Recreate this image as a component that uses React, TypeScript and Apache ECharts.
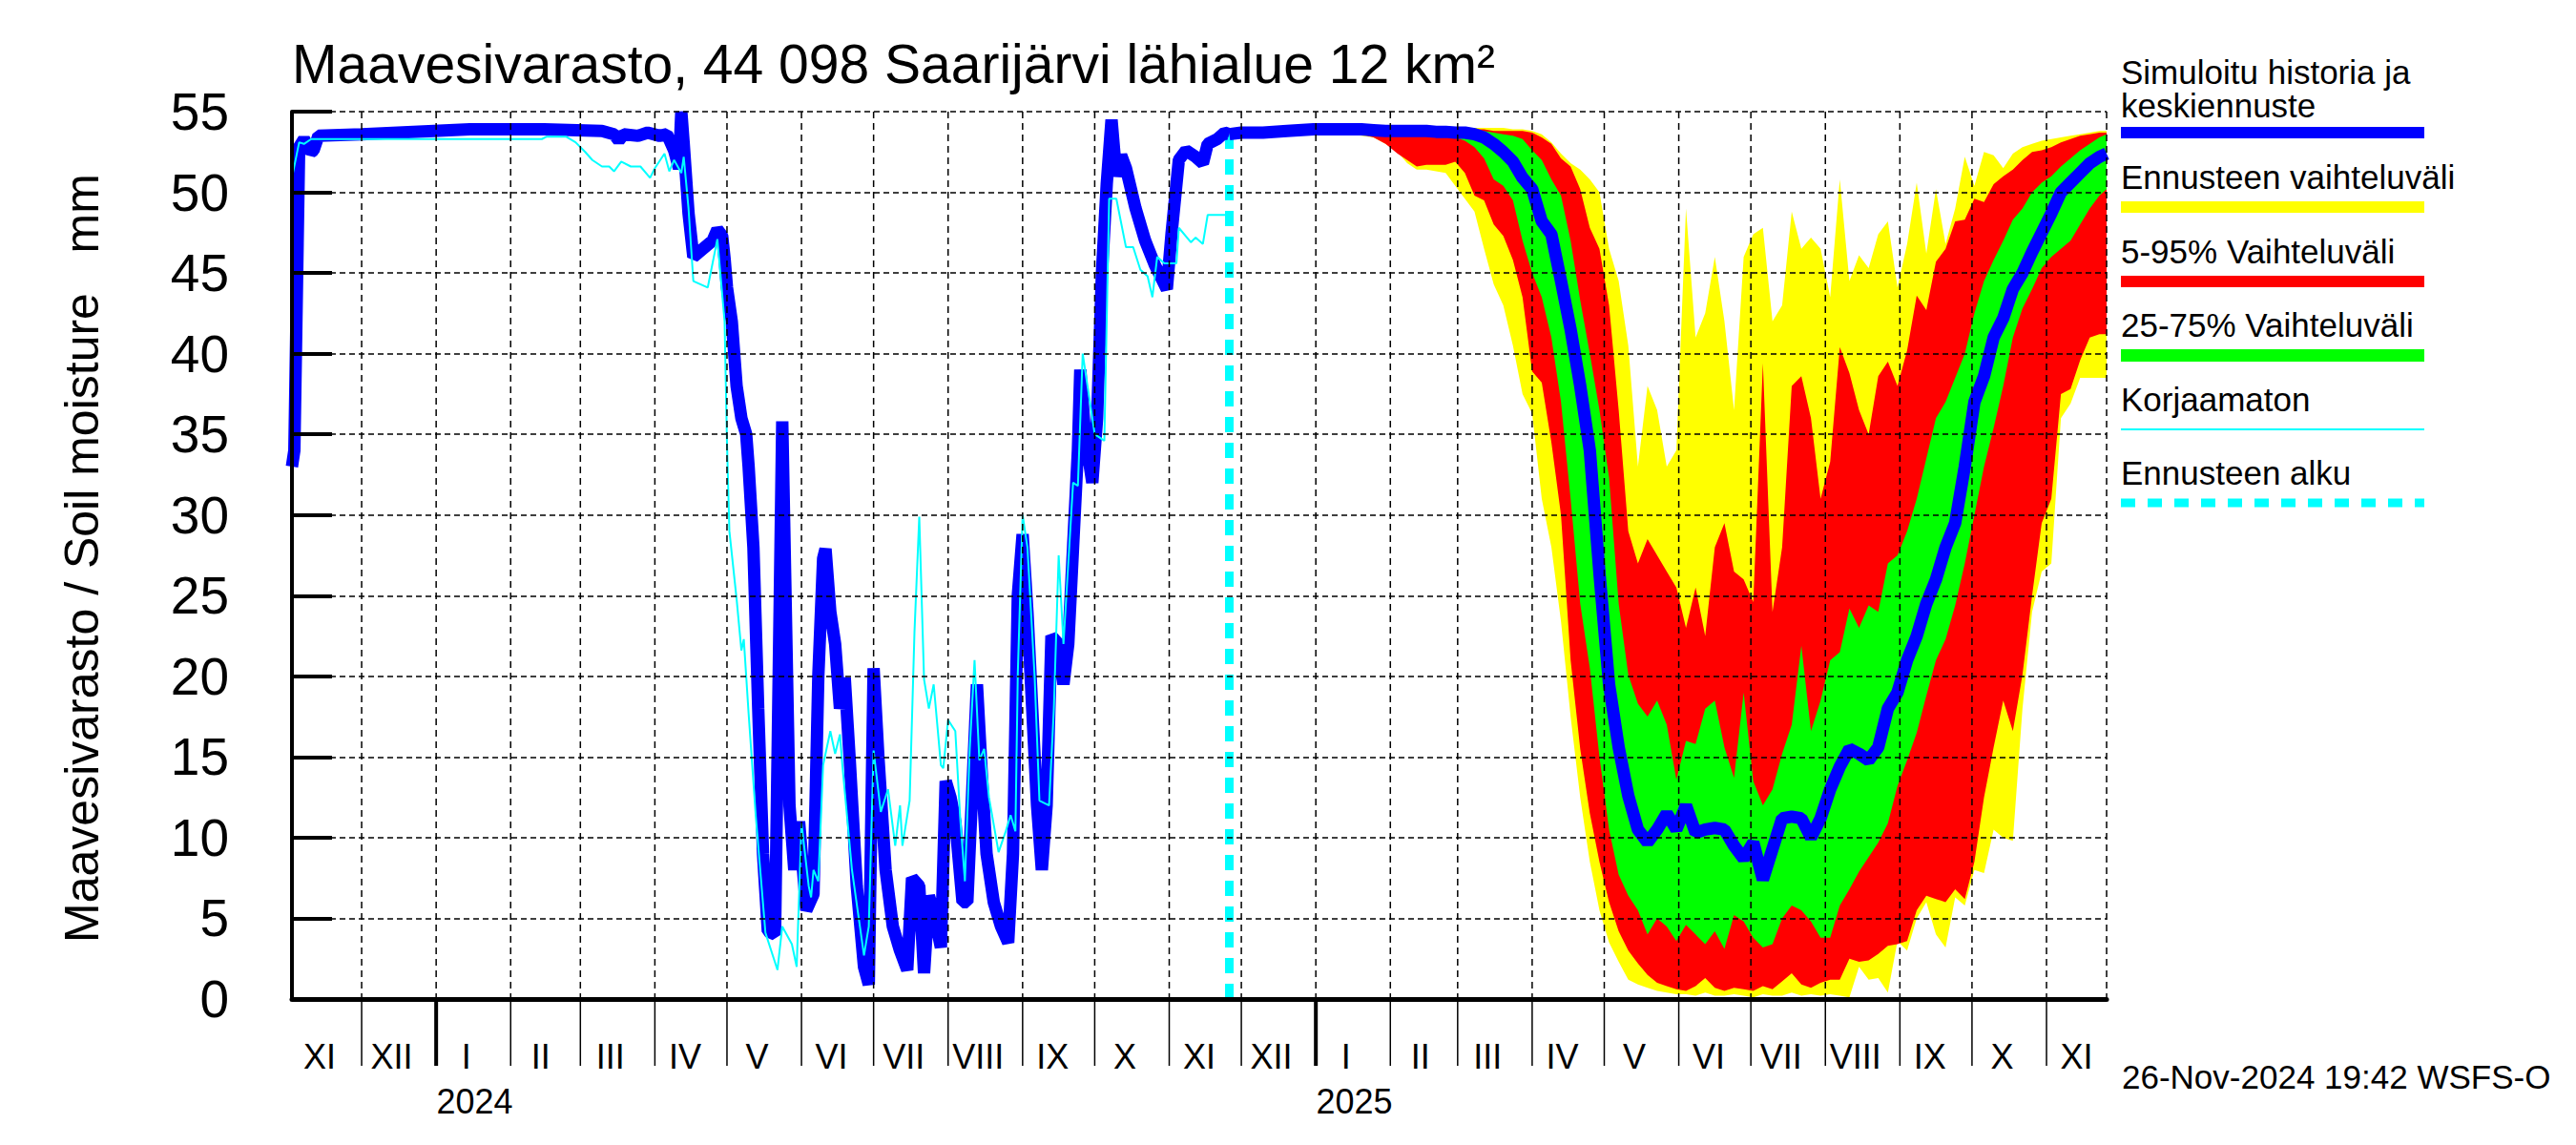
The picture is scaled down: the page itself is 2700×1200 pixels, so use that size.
import React, { useEffect, useRef } from "react";
import * as echarts from "echarts";

// ---------- axis / tick label data ----------
const AXIS_START = "2023-11-02";
const AXIS_END = "2025-11-26";
const FORECAST_START = "2024-11-26";
const romanMonths = ["I", "II", "III", "IV", "V", "VI", "VII", "VIII", "IX", "X", "XI", "XII"];
const monthStarts = [
  "2023-11-01", "2023-12-01", "2024-01-01", "2024-02-01", "2024-03-01", "2024-04-01", "2024-05-01",
  "2024-06-01", "2024-07-01", "2024-08-01", "2024-09-01", "2024-10-01", "2024-11-01", "2024-12-01",
  "2025-01-01", "2025-02-01", "2025-03-01", "2025-04-01", "2025-05-01", "2025-06-01", "2025-07-01",
  "2025-08-01", "2025-09-01", "2025-10-01", "2025-11-01",
];
const yearTexts = ["2024", "2025"];
const yearLabelDates = ["2024-01-17", "2025-01-17"];

// ---------- simulated history (blue) ----------
const histDates = [
  "2023-11-02", "2023-11-03", "2023-11-05", "2023-11-07", "2023-11-10", "2023-11-11", "2023-11-13",
  "2023-12-01", "2023-12-16", "2024-01-15", "2024-02-15", "2024-03-10", "2024-03-15", "2024-03-17",
  "2024-03-19", "2024-03-25", "2024-03-29", "2024-04-03", "2024-04-06", "2024-04-09", "2024-04-11",
  "2024-04-12", "2024-04-13", "2024-04-15", "2024-04-17", "2024-04-21", "2024-04-25", "2024-04-27",
  "2024-04-29", "2024-04-30", "2024-05-01", "2024-05-03", "2024-05-05", "2024-05-07", "2024-05-09",
  "2024-05-10", "2024-05-12", "2024-05-14", "2024-05-16", "2024-05-18", "2024-05-21", "2024-05-24",
  "2024-05-27", "2024-05-29", "2024-05-31", "2024-06-03", "2024-06-06", "2024-06-08", "2024-06-10",
  "2024-06-11", "2024-06-13", "2024-06-15", "2024-06-17", "2024-06-19", "2024-06-21", "2024-06-24",
  "2024-06-27", "2024-06-29", "2024-07-01", "2024-07-03", "2024-07-06", "2024-07-09", "2024-07-12",
  "2024-07-15", "2024-07-17", "2024-07-20", "2024-07-22", "2024-07-24", "2024-07-26", "2024-07-29",
  "2024-07-31", "2024-08-02", "2024-08-04", "2024-08-07", "2024-08-09", "2024-08-13", "2024-08-15",
  "2024-08-17", "2024-08-20", "2024-08-23", "2024-08-26", "2024-08-28", "2024-08-30", "2024-09-01",
  "2024-09-03", "2024-09-05", "2024-09-07", "2024-09-09", "2024-09-11", "2024-09-13", "2024-09-16",
  "2024-09-18", "2024-09-20", "2024-09-22", "2024-09-24", "2024-09-25", "2024-09-27", "2024-09-30",
  "2024-10-02", "2024-10-04", "2024-10-06", "2024-10-08", "2024-10-10", "2024-10-12", "2024-10-14",
  "2024-10-18", "2024-10-22", "2024-10-26", "2024-10-31", "2024-11-02", "2024-11-05", "2024-11-08",
  "2024-11-12", "2024-11-15", "2024-11-17", "2024-11-21", "2024-11-24", "2024-11-26",
];
const histValues = [
  33.0, 34.0, 52.8, 53.3, 52.5, 52.6, 53.5,
  53.6, 53.7, 53.9, 53.9, 53.8, 53.6, 53.2,
  53.6, 53.5, 53.7, 53.5, 53.6, 52.6, 51.5,
  55.0, 53.0, 48.7, 46.0, 46.5, 47.0, 47.7,
  47.3, 45.9, 44.1, 42.0, 38.0, 36.0, 35.0,
  33.0, 28.0, 18.0, 9.0, 4.2, 4.0, 35.8,
  12.0, 8.0, 11.0, 5.5, 6.5, 20.0, 27.3,
  27.9, 24.0, 22.0, 18.0, 19.9, 15.0, 7.0,
  2.0, 0.9, 20.5, 15.0, 8.0, 4.5, 3.0,
  1.8, 7.5, 7.0, 1.6, 6.4, 5.4, 3.2,
  13.5, 12.5, 11.0, 6.0, 6.0, 19.5, 14.0,
  9.0, 6.0, 4.5, 3.5, 9.0, 25.0, 28.8,
  24.0, 18.0, 12.0, 8.0, 12.0, 22.5, 22.0,
  19.5, 22.0, 28.0, 34.0, 39.0, 35.0, 32.0,
  36.0, 45.0, 50.5, 54.5, 51.0, 52.3, 51.5,
  49.0, 47.0, 45.5, 44.0, 47.5, 52.0, 52.6,
  52.2, 51.8, 53.0, 53.3, 53.7, 53.6,
];

// ---------- uncorrected (cyan) ----------
const rawDates = [
  "2023-11-02", "2023-11-05", "2023-11-07", "2023-11-10", "2024-02-14", "2024-02-16", "2024-02-24",
  "2024-02-28", "2024-03-03", "2024-03-06", "2024-03-10", "2024-03-13", "2024-03-15", "2024-03-18",
  "2024-03-22", "2024-03-26", "2024-03-30", "2024-04-01", "2024-04-05", "2024-04-07", "2024-04-09",
  "2024-04-12", "2024-04-13", "2024-04-15", "2024-04-17", "2024-04-23", "2024-04-27", "2024-04-30",
  "2024-05-01", "2024-05-02", "2024-05-05", "2024-05-07", "2024-05-08", "2024-05-10", "2024-05-13",
  "2024-05-17", "2024-05-22", "2024-05-24", "2024-05-28", "2024-05-30", "2024-06-01", "2024-06-04",
  "2024-06-05", "2024-06-06", "2024-06-08", "2024-06-10", "2024-06-13", "2024-06-15", "2024-06-17",
  "2024-06-18", "2024-06-22", "2024-06-27", "2024-06-29", "2024-07-01", "2024-07-04", "2024-07-07",
  "2024-07-10", "2024-07-12", "2024-07-13", "2024-07-16", "2024-07-18", "2024-07-20", "2024-07-22",
  "2024-07-24", "2024-07-26", "2024-07-29", "2024-07-30", "2024-08-01", "2024-08-04", "2024-08-06",
  "2024-08-08", "2024-08-10", "2024-08-12", "2024-08-14", "2024-08-16", "2024-08-18", "2024-08-22",
  "2024-08-25", "2024-08-27", "2024-08-29", "2024-08-30", "2024-09-01", "2024-09-03", "2024-09-06",
  "2024-09-08", "2024-09-12", "2024-09-14", "2024-09-16", "2024-09-18", "2024-09-20", "2024-09-22",
  "2024-09-24", "2024-09-26", "2024-09-28", "2024-10-01", "2024-10-05", "2024-10-07", "2024-10-10",
  "2024-10-14", "2024-10-17", "2024-10-20", "2024-10-23", "2024-10-25", "2024-10-27", "2024-10-30",
  "2024-11-04", "2024-11-05", "2024-11-10", "2024-11-12", "2024-11-15", "2024-11-17", "2024-11-26",
];
const rawValues = [
  50.9, 53.1, 53.0, 53.3, 53.3, 53.45, 53.45,
  53.1, 52.5, 52.0, 51.6, 51.6, 51.3, 51.9,
  51.6, 51.6, 50.9, 51.5, 52.4, 51.3, 52.0,
  51.2, 52.2, 49.0, 44.5, 44.1, 47.1, 42.0,
  34.5, 29.0, 24.8, 21.6, 22.3, 17.7, 11.3,
  4.1, 1.8, 4.5, 3.4, 2.0, 10.9, 7.0,
  6.3, 8.0, 7.3, 14.5, 16.6, 15.2, 16.4,
  14.5, 8.0, 2.7, 4.5, 15.4, 11.6, 13.0,
  9.5, 12.0, 9.5, 12.3, 22.7, 29.9, 19.8,
  18.0, 19.5, 14.5, 14.3, 17.3, 16.6, 11.3,
  7.3, 15.5, 21.0, 14.8, 15.5, 12.5, 9.1,
  10.4, 11.4, 10.4, 20.2, 30.0, 28.0, 20.0,
  12.3, 12.0, 18.0, 27.5, 22.0, 27.0, 32.0,
  31.8, 40.0, 38.0, 35.0, 34.6, 49.6, 49.6,
  46.6, 46.6, 45.2, 44.8, 43.5, 46.0, 45.6,
  45.6, 47.8, 46.9, 47.2, 46.8, 48.6, 48.6,
];

// ---------- forecast ----------
const fcDates = [
  "2024-11-26", "2024-12-01", "2024-12-10", "2024-12-20", "2024-12-31", "2025-01-10", "2025-01-15",
  "2025-01-20", "2025-01-25", "2025-01-30", "2025-02-04", "2025-02-08", "2025-02-12", "2025-02-16",
  "2025-02-20", "2025-02-24", "2025-02-28", "2025-03-04", "2025-03-08", "2025-03-12", "2025-03-16",
  "2025-03-20", "2025-03-24", "2025-03-28", "2025-04-01", "2025-04-05", "2025-04-09", "2025-04-13",
  "2025-04-17", "2025-04-21", "2025-04-25", "2025-04-29", "2025-05-03", "2025-05-07", "2025-05-11",
  "2025-05-15", "2025-05-19", "2025-05-23", "2025-05-27", "2025-05-31", "2025-06-04", "2025-06-08",
  "2025-06-12", "2025-06-16", "2025-06-20", "2025-06-24", "2025-06-28", "2025-07-02", "2025-07-06",
  "2025-07-10", "2025-07-14", "2025-07-18", "2025-07-22", "2025-07-26", "2025-07-30", "2025-08-03",
  "2025-08-07", "2025-08-11", "2025-08-15", "2025-08-19", "2025-08-23", "2025-08-27", "2025-08-31",
  "2025-09-04", "2025-09-08", "2025-09-12", "2025-09-16", "2025-09-20", "2025-09-24", "2025-09-28",
  "2025-10-02", "2025-10-06", "2025-10-10", "2025-10-14", "2025-10-18", "2025-10-22", "2025-10-26",
  "2025-10-30", "2025-11-03", "2025-11-07", "2025-11-11", "2025-11-15", "2025-11-19", "2025-11-23",
  "2025-11-26",
];
const fcMedian = [
  53.6, 53.7, 53.7, 53.8, 53.9, 53.9, 53.9, 53.9, 53.85, 53.8,
  53.8, 53.8, 53.8, 53.8, 53.75, 53.75, 53.7, 53.7, 53.6, 53.4,
  53.0, 52.5, 51.9, 50.9, 50.2, 48.2, 47.4, 44.5, 41.5, 38.0,
  34.0, 26.4, 19.5, 15.6, 12.6, 10.5, 9.7, 10.5, 11.5, 10.5,
  12.0, 10.3, 10.5, 10.6, 10.5, 9.5, 8.7, 9.7, 7.4, 9.3,
  11.2, 11.3, 11.2, 10.0, 11.2, 13.0, 14.4, 15.5, 15.2, 14.8,
  15.6, 18.0, 19.0, 21.0, 22.5, 24.5, 26.0, 28.0, 29.5, 33.0,
  37.0, 38.6, 41.0, 42.2, 44.0, 45.0, 46.3, 47.5, 48.7, 50.0,
  50.6, 51.2, 51.8, 52.2, 52.4,
];
const fcMax = [
  53.7, 53.8, 53.8, 53.9, 53.9, 53.9, 53.9, 53.9, 53.9, 53.9, 53.9, 53.9, 53.9, 53.9, 53.9, 53.9, 54.0,
  54.0, 54.0, 54.0, 54.0, 54.0, 53.9, 53.9,
  53.8, 53.6, 53.1, 52.4, 51.8, 51.4, 50.8, 50.0,
  46.5, 44.5, 40.5, 33.0, 38.0, 36.5, 33.0, 34.0,
  49.0, 41.0, 42.5, 46.0, 42.0, 36.5, 46.0,
  47.4, 47.8, 42.0, 43.0, 48.8, 46.5, 47.2, 46.5,
  43.5, 50.8, 44.5, 46.1, 45.3, 47.4, 48.2, 44.1,
  46.8, 50.6, 46.2, 50.2, 46.8, 49.0, 52.2,
  50.4, 52.5, 52.3, 51.5, 52.4, 52.8, 53.0, 53.2,
  53.3, 53.4, 53.5, 53.6, 53.7, 53.8, 53.8,
];
const fcP95 = [
  53.6, 53.7, 53.7, 53.8, 53.9, 53.9, 53.9, 53.9, 53.9, 53.9, 53.9, 53.9, 53.9, 53.9, 53.9, 53.9, 53.9,
  53.9, 53.9, 53.9, 53.8, 53.8, 53.8, 53.8,
  53.7, 53.4, 53.0, 52.1, 51.6, 50.2, 47.8, 46.5,
  43.0, 36.5, 29.0, 27.0, 28.5, 27.5, 26.5, 25.5,
  23.0, 25.5, 22.5, 28.0, 29.5, 26.5, 26.0,
  24.6, 39.4, 24.0, 28.0, 38.0, 38.6, 36.0, 31.0,
  33.3, 40.4, 38.8, 36.5, 35.0, 38.6, 39.5, 38.0,
  40.2, 43.6, 42.7, 45.7, 46.5, 48.2, 48.3,
  49.6, 49.4, 50.5, 51.0, 51.4, 52.0, 52.5, 52.6,
  52.8, 53.1, 53.3, 53.5, 53.6, 53.7, 53.7,
];
const fcP75 = [
  53.6, 53.7, 53.7, 53.8, 53.9, 53.9, 53.9, 53.9, 53.85, 53.8, 53.8, 53.8, 53.8, 53.8, 53.8, 53.8, 53.8,
  53.8, 53.8, 53.8, 53.7, 53.6, 53.5, 53.3,
  52.6, 52.0, 50.8, 49.8, 47.0, 43.3, 40.0, 36.5,
  32.3, 24.5, 20.1, 18.3, 17.5, 18.5, 17.0, 13.6,
  16.0, 15.8, 18.0, 18.5, 15.6, 13.7, 19.0,
  13.5, 12.0, 13.0, 15.2, 17.0, 21.9, 16.6, 18.5,
  21.0, 21.5, 24.2, 23.0, 24.4, 24.0, 27.0, 27.5,
  29.0, 31.0, 33.5, 36.0, 37.0, 38.5, 40.0,
  42.5, 44.5, 45.8, 47.0, 48.3, 49.0, 50.0, 50.6,
  51.0, 51.6, 52.1, 52.6, 53.0, 53.4, 53.6,
];
const fcP25 = [
  53.5, 53.6, 53.6, 53.7, 53.8, 53.8, 53.8, 53.8, 53.75, 53.7, 53.7, 53.7, 53.7, 53.7, 53.65, 53.6, 53.4,
  53.2, 52.8, 52.1, 50.8, 50.4, 49.5, 47.0,
  45.0, 43.5, 41.0, 37.0, 31.0, 24.5, 20.5, 15.0,
  10.5, 7.7, 6.4, 5.5, 4.0, 5.0, 4.5, 3.6,
  4.6, 4.0, 3.4, 4.2, 3.1, 5.2, 4.8,
  3.8, 3.2, 3.4, 5.0, 5.8, 5.5, 4.8, 3.8,
  3.8, 5.8, 6.8, 7.9, 8.8, 9.7, 10.9, 13.2,
  14.8, 16.5, 18.8, 21.0, 22.3, 24.4, 27.0,
  30.0, 33.0, 35.4, 38.0, 41.0, 42.8, 44.0, 45.3,
  46.0, 46.5, 47.0, 48.0, 49.0, 49.8, 50.2,
];
const fcP5 = [
  53.5, 53.6, 53.6, 53.7, 53.8, 53.8, 53.75, 53.6, 53.4, 53.0, 52.4, 52.0, 51.6, 51.7, 51.7, 51.7, 51.9,
  51.2, 49.8, 49.5, 48.0, 47.3, 45.8, 43.5,
  38.9, 38.2, 34.5, 30.0, 21.0, 15.5, 11.5, 8.5,
  6.0, 4.2, 3.0, 2.2, 1.5, 1.0, 0.8, 0.6,
  0.5, 0.8, 1.3, 0.7, 0.5, 0.7, 0.6,
  0.5, 0.8, 0.6, 1.1, 1.6, 0.9, 0.7, 1.0,
  1.2, 1.2, 2.5, 2.3, 2.4, 2.8, 3.3, 3.4,
  3.6, 5.5, 6.4, 6.2, 6.0, 6.8, 6.2,
  8.5, 12.5, 15.6, 18.5, 16.6, 20.1, 25.0, 29.5,
  31.0, 37.5, 37.8, 39.6, 41.0, 41.2, 41.2,
];
const fcMin = [
  53.5, 53.6, 53.6, 53.7, 53.8, 53.8, 53.6, 53.5, 53.4, 53.0, 52.5, 51.8, 51.4, 51.4, 51.3, 51.2, 50.4,
  49.6, 48.8, 46.5, 44.3, 43.0, 40.5, 37.5,
  36.3, 31.0, 28.0, 23.4, 17.5, 12.5, 8.5, 5.5,
  3.5, 2.3, 1.2, 0.9, 0.7, 0.5, 0.4, 0.3,
  0.3, 0.2, 0.4, 0.2, 0.2, 0.3, 0.2,
  0.1, 0.3, 0.2, 0.2, 0.4, 0.2, 0.3, 0.2,
  0.3, 0.2, 0.1, 2.0, 1.2, 1.3, 0.4, 3.6,
  3.0, 5.0, 6.0, 4.0, 3.2, 6.3, 5.8,
  8.0, 7.8, 10.5, 10.0, 9.8, 18.0, 24.0, 26.5,
  27.0, 36.0, 36.9, 38.5, 38.5, 38.5, 38.5,
];

const DAY = 86400000;
const ts = (s: string) => Date.parse(s + "T00:00:00Z");
const FONT = '"Liberation Sans", Arial, Helvetica, sans-serif';

export default function App() {
  const ref = useRef<HTMLDivElement>(null);

  useEffect(() => {
    const chart = echarts.init(ref.current as HTMLDivElement, null, { renderer: "svg" });
    const xMin = ts(AXIS_START);
    const xMax = ts(AXIS_END);

    const pairs = (dates: string[], vals: number[]) => dates.map((d, i) => [ts(d), vals[i]]);
    const diff = (hi: number[], lo: number[]) =>
      fcDates.map((d, i) => [ts(d), Math.max(0.001, +(hi[i] - lo[i]).toFixed(3))]);

    const gridItems: number[][] = monthStarts
      .filter((s) => ts(s) > xMin)
      .map((s) => [ts(s), s.endsWith("-01-01") ? 1 : 0]);
    gridItems.push([xMax, 2]);
    const monthLabelItems = monthStarts.map((s) => [ts(s) + 12.5 * DAY, new Date(ts(s)).getUTCMonth()]);
    const yearItems = yearLabelDates.map((d, i) => [ts(d), i]);

    const base = (name: string, stack: string, vals: number[]) => ({
      name,
      type: "line",
      stack,
      stackStrategy: "all",
      data: pairs(fcDates, vals),
      symbol: "none",
      silent: true,
      lineStyle: { opacity: 0 },
    });
    const band = (name: string, stack: string, hi: number[], lo: number[], color: string) => ({
      name,
      type: "line",
      stack,
      stackStrategy: "all",
      data: diff(hi, lo),
      symbol: "none",
      silent: true,
      lineStyle: { opacity: 0 },
      areaStyle: { color, opacity: 1 },
    });

    const legendX = 2223;
    const legendW = 318;
    const legendFont = `35px ${FONT}`;
    const ltext = (text: string, y: number, lh?: number) => ({
      type: "text",
      x: legendX,
      y,
      style: {
        text,
        font: legendFont,
        fill: "#000",
        textAlign: "left",
        align: "left",
        textVerticalAlign: "middle",
        verticalAlign: "middle",
        lineHeight: lh,
      },
    });
    const barY = [139, 217, 295, 372, 450, 527];

    const option: any = {
      animation: false,
      backgroundColor: "#ffffff",
      grid: { left: 306, right: 492, top: 117, bottom: 153, containLabel: false },
      xAxis: {
        type: "time",
        min: xMin,
        max: xMax,
        z: 20,
        axisLine: { show: true, lineStyle: { color: "#000", width: 5 } },
        axisTick: { show: false },
        axisLabel: { show: false },
        splitLine: { show: false },
      },
      yAxis: {
        type: "value",
        min: 0,
        max: 55,
        interval: 5,
        z: 20,
        axisLine: { show: true, lineStyle: { color: "#000", width: 4 } },
        axisTick: { show: true, inside: true, length: 42, lineStyle: { color: "#000", width: 4 } },
        axisLabel: {
          color: "#000",
          fontSize: 55,
          fontFamily: FONT,
          margin: 66,
          padding: [0, 0, 18, 0],
        },
        splitLine: { show: true, lineStyle: { color: "#000", width: 1.5, type: [6, 4] } },
      },
      series: [
        base("min", "minmax", fcMin),
        band("Ennusteen vaihteluväli", "minmax", fcMax, fcMin, "#ffff00"),
        base("p5", "p5p95", fcP5),
        band("5-95% Vaihteluväli", "p5p95", fcP95, fcP5, "#ff0000"),
        base("p25", "p25p75", fcP25),
        band("25-75% Vaihteluväli", "p25p75", fcP75, fcP25, "#00ff00"),
        {
          name: "Ennusteen alku",
          type: "line",
          data: [
            [ts(FORECAST_START), 0],
            [ts(FORECAST_START), 53.6],
          ],
          symbol: "none",
          silent: true,
          lineStyle: { color: "#00ffff", width: 9, type: [16, 11] },
        },
        {
          name: "keskiennuste",
          type: "line",
          data: pairs(fcDates, fcMedian),
          symbol: "none",
          silent: true,
          lineStyle: { color: "#0000ff", width: 13, join: "bevel" },
        },
        {
          name: "Simuloitu historia",
          type: "line",
          data: pairs(histDates, histValues),
          symbol: "none",
          silent: true,
          lineStyle: { color: "#0000ff", width: 13, join: "bevel" },
        },
        {
          name: "Korjaamaton",
          type: "line",
          data: pairs(rawDates, rawValues),
          symbol: "none",
          silent: true,
          lineStyle: { color: "#00ffff", width: 2 },
        },
        {
          name: "monthGrid",
          type: "custom",
          z: 20,
          clip: false,
          silent: true,
          encode: { x: 0, y: 1 },
          data: gridItems,
          renderItem: (params: any, api: any) => {
            const cs = params.coordSys;
            const x = api.coord([api.value(0), 0])[0];
            const top = cs.y;
            const bottom = cs.y + cs.height;
            const kind = api.value(1);
            const children: any[] = [
              {
                type: "line",
                shape: { x1: x, y1: top, x2: x, y2: bottom },
                style: { stroke: "#000", lineWidth: 1.5, lineDash: [7, 5] },
              },
            ];
            if (kind !== 2) {
              children.push({
                type: "line",
                shape: { x1: x, y1: bottom, x2: x, y2: bottom + 70 },
                style: { stroke: "#000", lineWidth: kind === 1 ? 4 : 1.5 },
              });
            }
            return { type: "group", children };
          },
        },
        {
          name: "monthLabels",
          type: "custom",
          z: 20,
          clip: false,
          silent: true,
          encode: { x: 0, y: 1 },
          data: monthLabelItems,
          renderItem: (params: any, api: any) => {
            const cs = params.coordSys;
            const x = api.coord([api.value(0), 0])[0];
            return {
              type: "text",
              x,
              y: cs.y + cs.height + 60.5,
              style: {
                text: romanMonths[api.value(1)],
                font: `36px ${FONT}`,
                fill: "#000",
                textAlign: "center",
                align: "center",
                textVerticalAlign: "middle",
                verticalAlign: "middle",
              },
            };
          },
        },
        {
          name: "yearLabels",
          type: "custom",
          z: 20,
          clip: false,
          silent: true,
          encode: { x: 0, y: 1 },
          data: yearItems,
          renderItem: (params: any, api: any) => {
            const cs = params.coordSys;
            const x = api.coord([api.value(0), 0])[0];
            return {
              type: "text",
              x,
              y: cs.y + cs.height + 107.5,
              style: {
                text: yearTexts[api.value(1)],
                font: `36px ${FONT}`,
                fill: "#000",
                textAlign: "center",
                align: "center",
                textVerticalAlign: "middle",
                verticalAlign: "middle",
              },
            };
          },
        },
      ],
      graphic: [
        {
          type: "text",
          x: 306,
          y: 67,
          style: {
            text: "Maavesivarasto, 44 098 Saarijärvi lähialue 12 km²",
            font: `57px ${FONT}`,
            fill: "#000",
            textAlign: "left",
            align: "left",
            textVerticalAlign: "middle",
            verticalAlign: "middle",
          },
        },
        {
          type: "text",
          x: 86,
          y: 585,
          rotation: Math.PI / 2,
          style: {
            text: "Maavesivarasto / Soil moisture   mm",
            font: `50px ${FONT}`,
            fill: "#000",
            textAlign: "center",
            align: "center",
            textVerticalAlign: "middle",
            verticalAlign: "middle",
          },
        },
        {
          type: "text",
          x: 2224,
          y: 1128,
          style: {
            text: "26-Nov-2024 19:42 WSFS-O",
            font: `35px ${FONT}`,
            fill: "#000",
            textAlign: "left",
            align: "left",
            textVerticalAlign: "middle",
            verticalAlign: "middle",
          },
        },
        ltext("Simuloitu historia ja\nkeskiennuste", 92.5, 35),
        { type: "rect", shape: { x: legendX, y: barY[0] - 6, width: legendW, height: 12 }, style: { fill: "#0000ff" } },
        ltext("Ennusteen vaihteluväli", barY[1] - 32),
        { type: "rect", shape: { x: legendX, y: barY[1] - 6, width: legendW, height: 12 }, style: { fill: "#ffff00" } },
        ltext("5-95% Vaihteluväli", barY[2] - 32),
        { type: "rect", shape: { x: legendX, y: barY[2] - 6, width: legendW, height: 12 }, style: { fill: "#ff0000" } },
        ltext("25-75% Vaihteluväli", barY[3] - 32),
        { type: "rect", shape: { x: legendX, y: barY[3] - 6, width: legendW, height: 13 }, style: { fill: "#00ff00" } },
        ltext("Korjaamaton", barY[4] - 32),
        {
          type: "line",
          shape: { x1: legendX, y1: barY[4], x2: legendX + legendW, y2: barY[4] },
          style: { stroke: "#00ffff", lineWidth: 2 },
        },
        ltext("Ennusteen alku", barY[5] - 32),
        {
          type: "line",
          shape: { x1: legendX, y1: barY[5], x2: legendX + legendW, y2: barY[5] },
          style: { stroke: "#00ffff", lineWidth: 9, lineDash: [15, 13] },
        },
      ],
    };

    chart.setOption(option);
    return () => {
      chart.dispose();
    };
  }, []);

  return (
    <div
      ref={ref}
      style={{ position: "fixed", left: 0, top: 0, width: 2700, height: 1200, background: "#fff" }}
    />
  );
}
